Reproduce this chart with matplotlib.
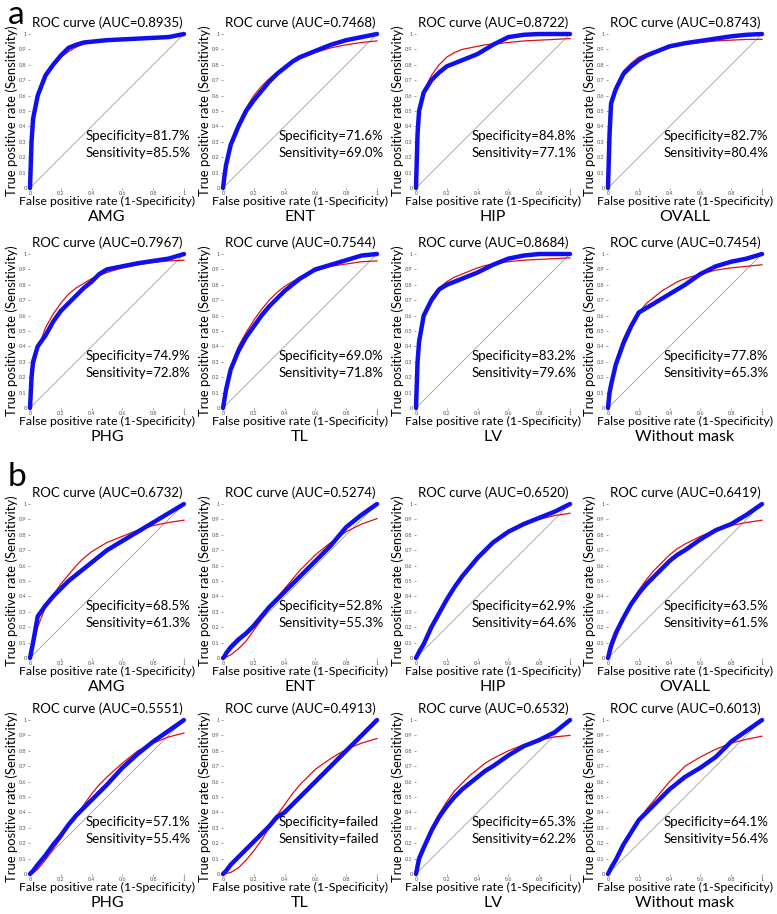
import matplotlib
matplotlib.use("Agg")
import matplotlib.pyplot as plt
import numpy as np

plt.rcParams["font.family"] = ["Lato", "DejaVu Sans"]

# shared false-positive-rate grid for all read-off curves
fpr = [0, .01, .02, .05, .1, .15, .2, .25, .3, .35, .4, .45, .5, .6, .7, .8, .9, 1.0]

# panel a: empirical (blue) and fitted (red) TPR
a_amg_emp = [0, .30, .45, .60, .73, .80, .86, .91, .93, .945, .95, .955, .96, .965, .97, .975, .98, 1.0]
a_amg_fit = [0, .28, .42, .60, .73, .80, .85, .885, .915, .935, .945, .955, .96, .97, .975, .98, .985, .99]
a_ent_emp = [0, .08, .15, .28, .40, .50, .57, .63, .69, .74, .78, .82, .85, .89, .93, .96, .98, 1.0]
a_ent_fit = [0, .10, .17, .30, .42, .52, .60, .66, .71, .75, .79, .82, .84, .88, .91, .93, .945, .955]
a_hip_emp = [0, .35, .50, .62, .70, .75, .79, .81, .83, .85, .87, .90, .93, .98, .995, 1.0, 1.0, 1.0]
a_hip_fit = [0, .40, .50, .63, .73, .80, .85, .88, .90, .91, .92, .93, .935, .945, .955, .96, .965, .97]
a_ovall_emp = [0, .35, .55, .64, .74, .79, .83, .86, .88, .90, .92, .93, .94, .955, .97, .985, .995, 1.0]
a_ovall_fit = [0, .38, .50, .66, .76, .81, .85, .87, .89, .905, .92, .93, .935, .945, .955, .96, .965, .965]
a_phg_emp = [0, .20, .30, .40, .47, .56, .63, .68, .73, .78, .82, .87, .90, .92, .94, .955, .97, 1.0]
a_phg_fit = [0, .16, .25, .38, .52, .61, .68, .74, .78, .81, .84, .86, .88, .91, .93, .945, .955, .96]
a_tl_emp = [0, .06, .12, .25, .37, .46, .53, .60, .66, .71, .76, .80, .84, .90, .93, .96, .99, 1.0]
a_tl_fit = [0, .09, .15, .27, .40, .49, .57, .64, .70, .75, .79, .82, .85, .89, .92, .935, .95, .955]
a_lv_emp = [0, .30, .43, .60, .70, .77, .80, .82, .84, .86, .88, .905, .93, .97, .99, 1.0, 1.0, 1.0]
a_lv_fit = [0, .30, .42, .60, .72, .78, .82, .85, .87, .89, .91, .925, .935, .95, .96, .965, .97, .975]
a_nomask_emp = [0, .10, .15, .28, .42, .53, .62, .65, .68, .71, .74, .77, .80, .87, .92, .95, .97, 1.0]
a_nomask_fit = [0, .10, .17, .30, .45, .55, .62, .68, .72, .76, .79, .82, .84, .87, .895, .91, .92, .93]

# panel b
b_amg_emp = [0, .05, .10, .27, .34, .40, .45, .50, .54, .58, .62, .66, .70, .76, .82, .88, .94, 1.0]
b_amg_fit = [0, .04, .08, .20, .33, .41, .48, .54, .60, .65, .69, .72, .75, .79, .83, .86, .88, .895]
b_ent_emp = [0, .01, .03, .07, .12, .16, .21, .27, .33, .38, .43, .48, .53, .63, .73, .85, .93, 1.0]
b_ent_fit = [0, .002, .006, .02, .06, .11, .18, .25, .32, .39, .45, .51, .57, .67, .75, .82, .87, .905]
b_hip_emp = [0, .02, .04, .09, .20, .29, .38, .46, .53, .59, .65, .70, .75, .82, .87, .91, .95, 1.0]
b_hip_fit = [0, .02, .04, .10, .20, .29, .38, .46, .53, .59, .65, .70, .75, .82, .87, .90, .925, .94]
b_ovall_emp = [0, .04, .08, .16, .26, .35, .42, .48, .53, .58, .63, .67, .70, .77, .83, .87, .93, 1.0]
b_ovall_fit = [0, .02, .05, .13, .26, .36, .44, .51, .57, .62, .67, .71, .74, .79, .83, .86, .88, .895]
b_phg_emp = [0, .01, .02, .06, .12, .19, .25, .32, .38, .43, .48, .53, .58, .69, .78, .86, .93, 1.0]
b_phg_fit = [0, .005, .01, .03, .09, .16, .23, .31, .38, .45, .52, .58, .63, .72, .80, .85, .89, .915]
b_tl_emp = [0, .01, .02, .06, .11, .16, .21, .26, .31, .37, .40, .45, .50, .60, .70, .80, .90, 1.0]
b_tl_fit = [0, .001, .003, .01, .04, .09, .15, .22, .30, .38, .45, .52, .58, .68, .75, .81, .85, .88]
b_lv_emp = [0, .05, .10, .17, .28, .37, .44, .50, .55, .59, .63, .67, .70, .77, .83, .87, .92, 1.0]
b_lv_fit = [0, .04, .07, .17, .30, .39, .47, .54, .59, .64, .68, .72, .75, .80, .84, .87, .89, .90]
b_nomask_emp = [0, .02, .04, .09, .19, .27, .35, .40, .45, .50, .55, .59, .63, .69, .76, .86, .93, 1.0]
b_nomask_fit = [0, .02, .03, .08, .18, .27, .35, .42, .48, .54, .60, .65, .70, .76, .81, .85, .875, .895]

regions = ["AMG", "ENT", "HIP", "OVALL", "PHG", "TL", "LV", "Without mask"]

a_auc = ["0.8935", "0.7468", "0.8722", "0.8743", "0.7967", "0.7544", "0.8684", "0.7454"]
a_spec = ["81.7%", "71.6%", "84.8%", "82.7%", "74.9%", "69.0%", "83.2%", "77.8%"]
a_sens = ["85.5%", "69.0%", "77.1%", "80.4%", "72.8%", "71.8%", "79.6%", "65.3%"]

b_auc = ["0.6732", "0.5274", "0.6520", "0.6419", "0.5551", "0.4913", "0.6532", "0.6013"]
b_spec = ["68.5%", "52.8%", "62.9%", "63.5%", "57.1%", "failed", "65.3%", "64.1%"]
b_sens = ["61.3%", "55.3%", "64.6%", "61.5%", "55.4%", "failed", "62.2%", "56.4%"]

a_emp = [a_amg_emp, a_ent_emp, a_hip_emp, a_ovall_emp, a_phg_emp, a_tl_emp, a_lv_emp, a_nomask_emp]
a_fit = [a_amg_fit, a_ent_fit, a_hip_fit, a_ovall_fit, a_phg_fit, a_tl_fit, a_lv_fit, a_nomask_fit]
b_emp = [b_amg_emp, b_ent_emp, b_hip_emp, b_ovall_emp, b_phg_emp, b_tl_emp, b_lv_emp, b_nomask_emp]
b_fit = [b_amg_fit, b_ent_fit, b_hip_fit, b_ovall_fit, b_phg_fit, b_tl_fit, b_lv_fit, b_nomask_fit]

W, H = 777, 914
fig = plt.figure(figsize=(W / 100, H / 100), dpi=100)

col_left = [30, 223, 416, 608]
row_top = [34, 254, 504, 720]
ax_w, ax_h = 154, 154


def draw_panel(ax, emp, fit, auc, spec, sens, region):
    ax.plot([0, 1], [0, 1], color="#a0a0a0", lw=0.6, zorder=1)
    ax.plot(fpr, fit, color="#e01010", lw=0.9, zorder=2, clip_on=False)
    ax.plot(fpr, emp, color="#1010ee", lw=3.2, zorder=3, clip_on=False,
            solid_capstyle="round")
    ax.set_xlim(0, 1)
    ax.set_ylim(0, 1)
    for s in ax.spines.values():
        s.set_visible(False)
    ax.set_xticks(np.arange(0, 1.01, 0.2))
    ax.set_xticklabels(["0", "0.2", "0.4", "0.6", "0.8", "1"])
    ax.set_yticks(np.arange(0, 1.01, 0.1))
    ax.set_yticklabels(["0"] + [f"0.{i}" for i in range(1, 10)] + ["1"])
    ax.tick_params(labelsize=4, colors="#555555", length=1.5, width=0.4, pad=1)
    ax.set_title(f"ROC curve (AUC={auc})", fontsize=9.5, pad=5)
    ax.set_ylabel("True positive rate (Sensitivity)", fontsize=9.4, labelpad=1)
    ax.text(0.5, -0.085, "False positive rate (1-Specificity)", transform=ax.transAxes,
            fontsize=8.9, ha="center", va="center")
    ax.text(0.36, 0.34, f"Specificity={spec}", transform=ax.transAxes,
            fontsize=9.5, va="center", ha="left")
    ax.text(0.36, 0.23, f"Sensitivity={sens}", transform=ax.transAxes,
            fontsize=9.5, va="center", ha="left")
    ax.text(0.5, -0.19, region, transform=ax.transAxes, fontsize=11.5,
            ha="center", va="center")


for half, (emps, fits, aucs, specs, senss) in enumerate(
        [(a_emp, a_fit, a_auc, a_spec, a_sens), (b_emp, b_fit, b_auc, b_spec, b_sens)]):
    for i in range(8):
        r = half * 2 + i // 4
        c = i % 4
        left = col_left[c] / W
        bottom = 1 - (row_top[r] + ax_h) / H
        ax = fig.add_axes([left, bottom, ax_w / W, ax_h / H])
        draw_panel(ax, emps[i], fits[i], aucs[i], specs[i], senss[i], regions[i])

fig.text(8 / W, 1 - 15 / H, "a", fontsize=24, ha="left", va="center")
fig.text(8 / W, 1 - 477 / H, "b", fontsize=24, ha="left", va="center")

fig.savefig("out.png", dpi=100)
